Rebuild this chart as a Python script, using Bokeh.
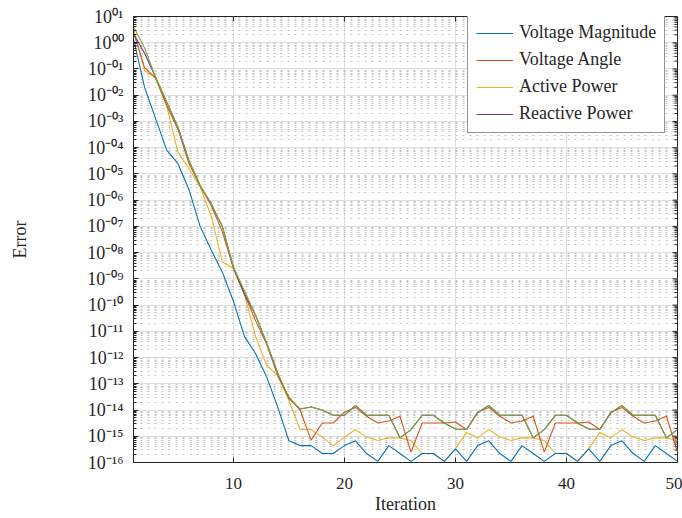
import math
from bokeh.plotting import figure
from bokeh.models import (FixedTicker, Legend, LegendItem, Range1d, CustomJSTickFormatter)
from bokeh.embed import file_html
from bokeh.resources import INLINE

iterations = list(range(1, 51))

voltage_magnitude = [1.41, 2.0e-2, 1.26e-3, 7.9e-5, 2.5e-5, 2.5e-6, 1.0e-7, 1.26e-8, 1.8e-9, 1.4e-10,
                     6.3e-12, 1.4e-12, 1.8e-13, 1.26e-14, 6.7e-16, 4.4e-16, 4.4e-16, 2.2e-16, 2.2e-16, 4.4e-16,
                     6.7e-16, 2.2e-16, 1.1e-16, 4.4e-16, 2.2e-16, 1.1e-16, 2.2e-16, 2.2e-16, 1.1e-16, 3.3e-16,
                     1.1e-16, 4.4e-16, 6.7e-16, 2.2e-16, 1.1e-16, 4.4e-16, 2.2e-16, 1.1e-16, 2.2e-16, 2.2e-16,
                     1.1e-16, 3.3e-16, 1.1e-16, 4.4e-16, 6.7e-16, 2.2e-16, 1.1e-16, 4.4e-16, 2.2e-16, 1.1e-16]

voltage_angle = [2.5, 0.112, 4.5e-2, 4.0e-3, 5.0e-4, 2.5e-5, 3.5e-6, 6.3e-7, 6.3e-8, 2.5e-9,
                 2.5e-10, 2.5e-11, 3.2e-12, 2.0e-13, 3.2e-14, 1.0e-14, 7.1e-16, 3.2e-15, 3.2e-15, 8.3e-15,
                 1.26e-14, 5.8e-15, 3.2e-15, 3.8e-15, 5.8e-15, 2.5e-16, 3.2e-15, 3.2e-15, 3.2e-15, 3.5e-15,
                 1.8e-15, 8.3e-15, 1.26e-14, 5.8e-15, 3.2e-15, 3.8e-15, 5.8e-15, 2.5e-16, 3.2e-15, 3.2e-15,
                 3.2e-15, 3.5e-15, 1.8e-15, 8.3e-15, 1.26e-14, 5.8e-15, 3.2e-15, 3.8e-15, 5.8e-15, 2.5e-16]

active_power = [3.4, 8.7e-2, 4.5e-2, 3.7e-3, 6.8e-5, 1.6e-5, 3.2e-6, 2.5e-7, 4.5e-9, 2.5e-9,
                2.5e-10, 6.3e-12, 5.0e-13, 2.0e-13, 2.3e-14, 1.8e-15, 1.8e-15, 9.3e-16, 4.4e-16, 9.3e-16,
                1.8e-15, 9.3e-16, 6.9e-16, 8.7e-16, 8.7e-16, 6.9e-16, 2.2e-16, 2.2e-16, 1.1e-16, 3.3e-16,
                1.4e-15, 8.7e-16, 1.8e-15, 9.3e-16, 6.9e-16, 8.7e-16, 8.7e-16, 6.9e-16, 2.2e-16, 2.2e-16,
                1.1e-16, 3.3e-16, 1.4e-15, 8.7e-16, 1.8e-15, 9.3e-16, 6.9e-16, 8.7e-16, 8.7e-16, 6.9e-16]

reactive_power = [2.2, 0.4, 4.7e-2, 5.4e-3, 6.0e-4, 3.2e-5, 3.6e-6, 7.2e-7, 1.0e-7, 2.8e-9,
                  2.7e-10, 4.0e-11, 3.5e-12, 2.5e-13, 2.7e-14, 1.1e-14, 1.3e-14, 1.0e-14, 6.3e-15, 6.3e-15,
                  1.5e-14, 6.3e-15, 6.3e-15, 6.3e-15, 8.7e-16, 1.8e-15, 6.3e-15, 6.3e-15, 3.2e-15, 1.9e-15,
                  1.8e-15, 7.9e-15, 1.5e-14, 6.3e-15, 6.3e-15, 6.3e-15, 8.7e-16, 1.8e-15, 6.3e-15, 6.3e-15,
                  3.2e-15, 1.9e-15, 1.8e-15, 7.9e-15, 1.5e-14, 6.3e-15, 6.3e-15, 6.3e-15, 8.7e-16, 1.8e-15]

total_mismatch = [4.2, 0.63, 4.7e-2, 5.4e-3, 6.0e-4, 3.2e-5, 3.6e-6, 7.2e-7, 1.0e-7, 2.8e-9,
                  3.5e-10, 4.0e-11, 3.5e-12, 2.5e-13, 2.7e-14, 1.1e-14, 1.3e-14, 1.0e-14, 6.3e-15, 6.3e-15,
                  1.5e-14, 6.3e-15, 6.3e-15, 6.3e-15, 8.7e-16, 1.8e-15, 6.3e-15, 6.3e-15, 3.2e-15, 1.9e-15,
                  1.8e-15, 7.9e-15, 1.5e-14, 6.3e-15, 6.3e-15, 6.3e-15, 8.7e-16, 1.8e-15, 6.3e-15, 6.3e-15,
                  3.2e-15, 1.9e-15, 1.8e-15, 7.9e-15, 1.5e-14, 6.3e-15, 6.3e-15, 6.3e-15, 8.7e-16, 1.8e-15]

x_ticks = [10, 20, 30, 40, 50]
y_decades = list(range(-16, 2))
legend_labels = ["Voltage Magnitude", "Voltage Angle", "Active Power", "Reactive Power"]
colors = ["#0072BD", "#D95319", "#EDB120", "#7E2F8E", "#77AC30"]

FONT = "Liberation Serif"
AX = "#262626"

y_major = [10.0 ** k for k in y_decades]
y_minor = [m * 10.0 ** k for k in y_decades[:-1] for m in range(2, 10)]

p = figure(width=682, height=518, y_axis_type="log",
           x_range=Range1d(1, 50), y_range=Range1d(1e-16, 1e1),
           output_backend="svg", toolbar_location=None,
           min_border_left=133, min_border_right=5, min_border_top=16, min_border_bottom=56)
p.background_fill_color = "white"
p.border_fill_color = "white"
p.outline_line_color = AX
p.outline_line_width = 1

yticker = FixedTicker(ticks=y_major, minor_ticks=y_minor)
xticker = FixedTicker(ticks=x_ticks, minor_ticks=[])

fmt = CustomJSTickFormatter(code="""
const sup = {'0':'\u2070','1':'\u00b9','2':'\u00b2','3':'\u00b3','4':'\u2074','5':'\u2075',
             '6':'\u2076','7':'\u2077','8':'\u2078','9':'\u2079','-':'\u207b'};
const e = Math.round(Math.log10(tick));
const s = (e < 0 ? '-' : '') + String(Math.abs(e)).padStart(2, '0');
return '10' + s.split('').map(c => sup[c]).join('');
""")

p.yaxis.ticker = yticker
p.yaxis.formatter = fmt
p.xaxis.ticker = xticker

for ax in list(p.xaxis) + list(p.yaxis):
    ax.axis_line_color = AX
    ax.major_tick_line_color = AX
    ax.minor_tick_line_color = AX
    ax.major_tick_in = 5
    ax.major_tick_out = 0
    ax.minor_tick_in = 3
    ax.minor_tick_out = 0
    ax.major_label_text_font = FONT
    ax.major_label_text_font_size = "17px"
    ax.major_label_text_color = AX
    ax.axis_label_text_font = FONT
    ax.axis_label_text_font_size = "18px"
    ax.axis_label_text_color = AX
    ax.axis_label_text_font_style = "normal"

p.yaxis.major_label_text_font_size = "18px"
p.xaxis.axis_label = "Iteration"
p.yaxis.axis_label = "Error"
p.xaxis.major_label_standoff = 15
p.yaxis.major_label_standoff = 10
p.xaxis.axis_label_standoff = 2
p.yaxis.axis_label_standoff = 54

p.xgrid.grid_line_color = "#dedede"
p.ygrid.grid_line_color = "#dedede"
p.ygrid.minor_grid_line_color = "#c4c4c4"
p.ygrid.minor_grid_line_dash = "2 5"

# box ticks on the top and right sides (inward)
p.ray(x=[iterations[-1]] * len(y_major), y=y_major, length=5, length_units="screen",
      angle=math.pi, line_color=AX, line_width=1)
p.ray(x=[iterations[-1]] * len(y_minor), y=y_minor, length=3, length_units="screen",
      angle=math.pi, line_color=AX, line_width=1)
p.ray(x=x_ticks, y=[y_major[-1]] * len(x_ticks), length=5, length_units="screen",
      angle=-math.pi / 2, line_color=AX, line_width=1)

lw = 1.1
r_ap = p.line(iterations, active_power, line_color=colors[2], line_width=lw)
r_vm = p.line(iterations, voltage_magnitude, line_color=colors[0], line_width=lw)
r_va = p.line(iterations, voltage_angle, line_color=colors[1], line_width=lw)
r_rp = p.line(iterations, reactive_power, line_color=colors[3], line_width=lw)
r_tm = p.line(iterations, total_mismatch, line_color=colors[4], line_width=lw)

legend = Legend(items=[LegendItem(label=legend_labels[0], renderers=[r_vm]),
                       LegendItem(label=legend_labels[1], renderers=[r_va]),
                       LegendItem(label=legend_labels[2], renderers=[r_ap]),
                       LegendItem(label=legend_labels[3], renderers=[r_rp])],
                location=(334, 329))
legend.label_text_font = FONT
legend.label_text_font_size = "18px"
legend.label_text_color = AX
legend.padding = 8
legend.spacing = 6
legend.label_height = 18
legend.glyph_height = 18
legend.glyph_width = 37
legend.label_standoff = 6
legend.border_line_color = AX
legend.border_line_width = 1
legend.background_fill_alpha = 1
legend.margin = 0
p.add_layout(legend, "center")

open("out.html", "w").write(file_html(p, INLINE))
